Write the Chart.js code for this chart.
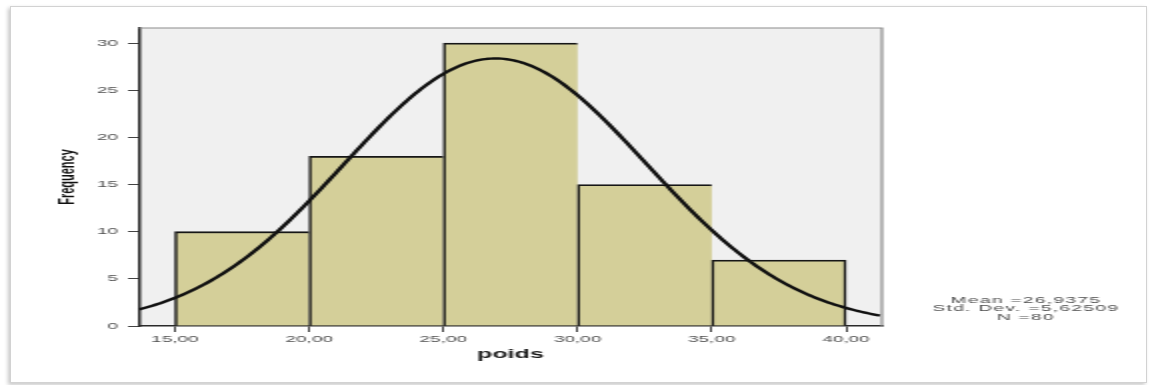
<!DOCTYPE html>
<html>
<head>
<meta charset="utf-8">
<script src="https://cdn.jsdelivr.net/npm/chart.js@4/dist/chart.umd.min.js"></script>
<style>
  html, body { margin: 0; padding: 0; background: #fff; width: 1150px; height: 385px; overflow: hidden; }
  #frame {
    position: absolute; left: 10px; top: 6px; width: 1135px; height: 375px;
    border: 1px solid #d2d2d2; box-shadow: -2px 2px 4px rgba(0,0,0,0.22); background: #fff;
  }
  /* the histogram is laid out at half width and stretched horizontally */
  #stage { position: absolute; left: 0; top: 0; width: 575px; height: 385px; transform: scaleX(2); transform-origin: 0 0; }
</style>
</head>
<body>
<div id="frame"></div>
<div id="stage"><canvas id="c"></canvas></div>
<script>
// Histogram of "poids"
const binEdges = [15, 20, 25, 30, 35, 40];
const frequencies = [10, 18, 30, 15, 7];
const xTickValues = [15, 20, 25, 30, 35, 40];
const yTickValues = [0, 5, 10, 15, 20, 25, 30];
const xRange = [13.66, 41.34];
const yRange = [0, 31.6];

// Summary statistics (also define the fitted normal curve)
const meanValue = 26.9375;
const stdDevValue = 5.62509;
const sampleSize = 80;

const fmt = (v, d) => (d === undefined ? String(v) : v.toFixed(d)).replace('.', ',');

const barData = frequencies.map((f, i) => ({ x: (binEdges[i] + binEdges[i + 1]) / 2, y: f }));
const binWidth = binEdges[1] - binEdges[0];

const curveData = [];
for (let x = xRange[0]; x <= xRange[1] + 1e-9; x += 0.1) {
  const z = (x - meanValue) / stdDevValue;
  const y = sampleSize * binWidth * Math.exp(-0.5 * z * z) / (stdDevValue * Math.sqrt(2 * Math.PI));
  curveData.push({ x: x, y: y });
}

const statLines = [
  'Mean =' + fmt(meanValue),
  'Std. Dev. =' + fmt(stdDevValue),
  'N =' + fmt(sampleSize)
];

const FONT = '"Liberation Sans", Arial, sans-serif';

const plotDecor = {
  id: 'plotDecor',
  beforeDraw(chart) {
    const { ctx, chartArea: a } = chart;
    ctx.save();
    ctx.fillStyle = '#f0f0f0';
    ctx.fillRect(a.left, a.top, a.right - a.left, a.bottom - a.top);
    ctx.restore();
  },
  afterDraw(chart) {
    const { ctx, chartArea: a } = chart;
    ctx.save();
    ctx.strokeStyle = '#8c8c8c';
    ctx.lineWidth = 1.2;
    ctx.beginPath();
    ctx.moveTo(a.left, a.top);
    ctx.lineTo(a.right, a.top);
    ctx.lineTo(a.right, a.bottom);
    ctx.stroke();
    ctx.fillStyle = '#4d4d4d';
    ctx.font = '9.5px ' + FONT;
    if ('letterSpacing' in ctx) ctx.letterSpacing = '0.7px';
    ctx.textAlign = 'center';
    ctx.textBaseline = 'middle';
    const ys = [300.3, 308.6, 316.9];
    statLines.forEach((t, i) => ctx.fillText(t, 513, ys[i]));
    ctx.restore();
  }
};

new Chart(document.getElementById('c'), {
  data: {
    datasets: [
      {
        type: 'line',
        data: curveData,
        borderColor: '#111',
        borderWidth: 2.4,
        pointRadius: 0,
        tension: 0,
        fill: false,
        order: 0
      },
      {
        type: 'bar',
        data: barData,
        backgroundColor: '#d4cf99',
        borderColor: '#161616',
        borderSkipped: false,
        borderWidth: (ctx) => ({
          left: 1.5,
          right: ctx.dataIndex === frequencies.length - 1 ? 1.5 : 0,
          top: 1.8,
          bottom: 0
        }),
        barPercentage: 1,
        categoryPercentage: 1,
        order: 1
      }
    ]
  },
  options: {
    responsive: true,
    maintainAspectRatio: false,
    animation: false,
    layout: { padding: { left: 0, right: 134, top: 28, bottom: 0 } },
    plugins: { legend: { display: false }, tooltip: { enabled: false } },
    scales: {
      x: {
        type: 'linear',
        offset: false,
        min: xRange[0],
        max: xRange[1],
        afterBuildTicks: (s) => { s.ticks = xTickValues.map(v => ({ value: v })); },
        afterFit: (s) => { s.height = 59; },
        ticks: {
          callback: (v) => fmt(v, 2),
          color: '#505050',
          font: { family: FONT, size: 9.5 },
          padding: 2,
          maxRotation: 0,
          autoSkip: false
        },
        grid: { offset: false, drawOnChartArea: false, drawTicks: true, tickLength: 6, color: '#444', lineWidth: 1 },
        border: { color: '#2a2a2a', width: 1.5 },
        title: {
          display: true,
          text: 'poids',
          color: '#1a1a1a',
          font: { family: FONT, size: 12.5, weight: 'bold' },
          padding: { top: 0, bottom: 22.5 }
        }
      },
      y: {
        type: 'linear',
        min: yRange[0],
        max: yRange[1],
        afterBuildTicks: (s) => { s.ticks = yTickValues.map(v => ({ value: v })); },
        afterFit: (s) => { s.width = 69.5; },
        ticks: {
          color: '#505050',
          font: { family: FONT, size: 9.5 },
          padding: 5
        },
        grid: { drawOnChartArea: false, drawTicks: true, tickLength: 5.5, color: '#444', lineWidth: 1 },
        border: { color: '#2a2a2a', width: 1.5 },
        title: {
          display: true,
          text: 'Frequency',
          color: '#111',
          font: { family: FONT, size: 11, weight: 'bold' },
          padding: { top: 27, bottom: 0 }
        }
      }
    }
  },
  plugins: [plotDecor]
});
</script>
</body>
</html>
